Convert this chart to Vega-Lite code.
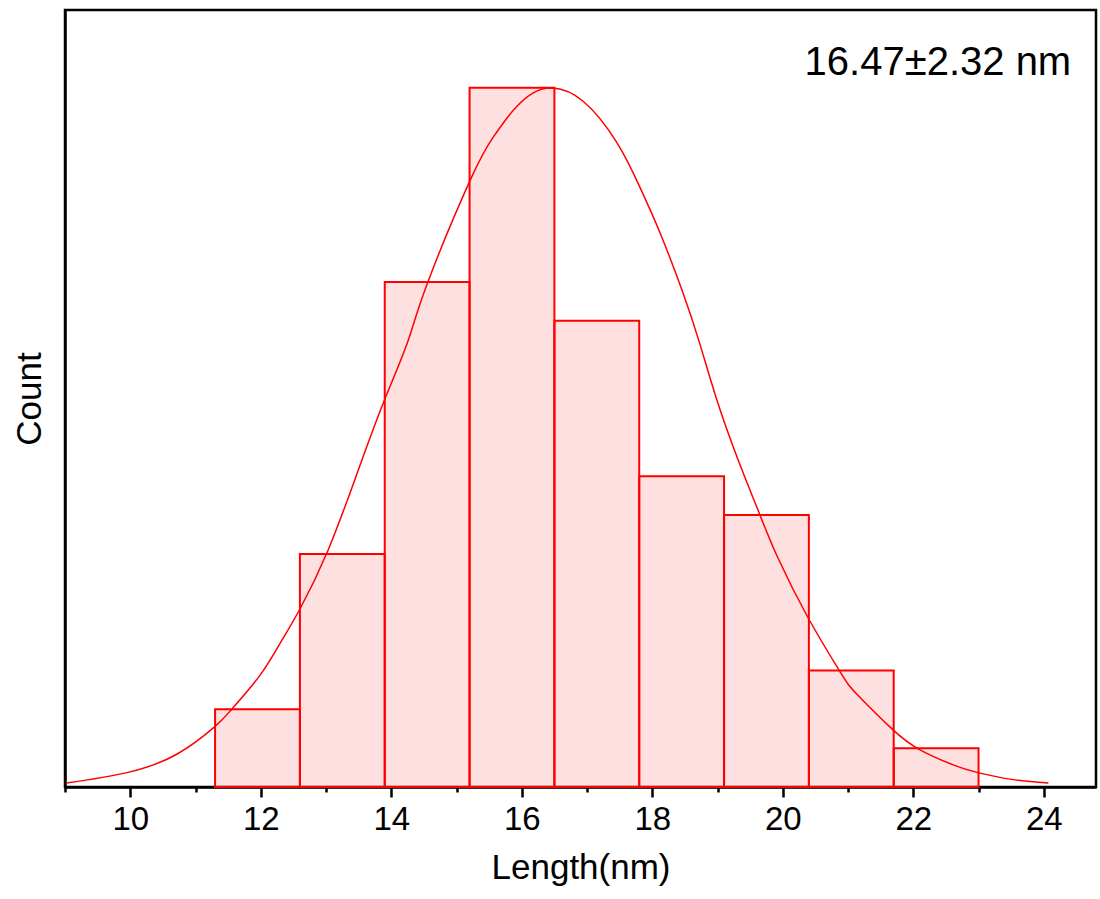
{
  "$schema": "https://vega.github.io/schema/vega-lite/v6.json",
  "width": 1031,
  "height": 777,
  "autosize": {"type": "none"},
  "padding": {"left": 65, "top": 10, "right": 4, "bottom": 112},
  "background": "white",
  "config": {"view": {"stroke": "black", "strokeWidth": 2.5}, "font": "Liberation Sans"},
  "datasets": {
    "bars": [
      {"start": 11.3, "end": 12.6, "count": 2},
      {"start": 12.6, "end": 13.9, "count": 6},
      {"start": 13.9, "end": 15.2, "count": 13},
      {"start": 15.2, "end": 16.5, "count": 18},
      {"start": 16.5, "end": 17.8, "count": 12},
      {"start": 17.8, "end": 19.1, "count": 8},
      {"start": 19.1, "end": 20.4, "count": 7},
      {"start": 20.4, "end": 21.7, "count": 3},
      {"start": 21.7, "end": 23.0, "count": 1}
    ],
    "curve": [
      {"length": 9.02, "fit": 0.10},
      {"length": 9.95, "fit": 0.37},
      {"length": 10.72, "fit": 0.85},
      {"length": 11.30, "fit": 1.56},
      {"length": 11.56, "fit": 2.01},
      {"length": 11.99, "fit": 2.88},
      {"length": 12.30, "fit": 3.71},
      {"length": 12.59, "fit": 4.55},
      {"length": 13.02, "fit": 6.05},
      {"length": 13.45, "fit": 7.95},
      {"length": 13.87, "fit": 9.85},
      {"length": 14.24, "fit": 11.4},
      {"length": 14.55, "fit": 12.95},
      {"length": 15.21, "fit": 15.62},
      {"length": 15.56, "fit": 16.72},
      {"length": 15.87, "fit": 17.42},
      {"length": 16.17, "fit": 17.86},
      {"length": 16.48, "fit": 17.99},
      {"length": 16.94, "fit": 17.65},
      {"length": 17.46, "fit": 16.58},
      {"length": 17.81, "fit": 15.44},
      {"length": 18.12, "fit": 14.26},
      {"length": 18.47, "fit": 12.72},
      {"length": 18.73, "fit": 11.4},
      {"length": 18.99, "fit": 9.96},
      {"length": 19.30, "fit": 8.49},
      {"length": 19.65, "fit": 7.00},
      {"length": 19.93, "fit": 5.88},
      {"length": 20.39, "fit": 4.35},
      {"length": 20.88, "fit": 2.96},
      {"length": 21.14, "fit": 2.38},
      {"length": 21.69, "fit": 1.47},
      {"length": 22.11, "fit": 0.95},
      {"length": 22.61, "fit": 0.57},
      {"length": 22.99, "fit": 0.37},
      {"length": 23.53, "fit": 0.19},
      {"length": 24.07, "fit": 0.10}
    ],
    "note": [{"label": "16.47±2.32 nm"}]
  },
  "layer": [
    {
      "data": {"name": "bars"},
      "mark": {"type": "rect", "fill": "#ff0000", "fillOpacity": 0.12, "stroke": "#ff0000", "strokeWidth": 2},
      "encoding": {
        "x": {
          "field": "start",
          "type": "quantitative",
          "scale": {"domain": [9, 24.8], "nice": false, "zero": false},
          "axis": {
            "title": "Length(nm)",
            "values": [9, 10, 11, 12, 13, 14, 15, 16, 17, 18, 19, 20, 21, 22, 23, 24],
            "format": "d",
            "labelExpr": "datum.value % 2 === 0 ? datum.label : ''",
            "tickSize": {"condition": {"test": "datum.value % 2 !== 0", "value": 5}, "value": 10},
            "tickColor": "black",
            "tickWidth": 2.5,
            "domainColor": "black",
            "domainWidth": 2.5,
            "labelFontSize": 33,
            "labelColor": "black",
            "labelFont": "Liberation Sans",
            "labelPadding": 6,
            "titleFont": "Liberation Sans",
            "titleFontSize": 35,
            "titleFontWeight": "normal",
            "titleColor": "black",
            "titlePadding": 14,
            "grid": false
          }
        },
        "x2": {"field": "end"},
        "y": {
          "field": "count",
          "type": "quantitative",
          "scale": {"domain": [0, 20], "nice": false},
          "axis": {
            "title": "Count",
            "labels": false,
            "ticks": false,
            "domainColor": "black",
            "domainWidth": 2.5,
            "titleFont": "Liberation Sans",
            "titleFontSize": 35,
            "titleFontWeight": "normal",
            "titleColor": "black",
            "titlePadding": 18,
            "grid": false
          }
        },
        "y2": {"datum": 0}
      }
    },
    {
      "data": {"name": "curve"},
      "mark": {"type": "line", "color": "#ff0000", "strokeWidth": 1.5, "interpolate": "natural"},
      "encoding": {
        "x": {"field": "length", "type": "quantitative"},
        "y": {"field": "fit", "type": "quantitative"}
      }
    },
    {
      "data": {"name": "note"},
      "mark": {"type": "text", "align": "right", "baseline": "alphabetic", "fontSize": 40, "font": "Liberation Sans", "color": "black"},
      "encoding": {
        "x": {"datum": 24.42},
        "y": {"datum": 18.33},
        "text": {"field": "label"}
      }
    }
  ]
}
